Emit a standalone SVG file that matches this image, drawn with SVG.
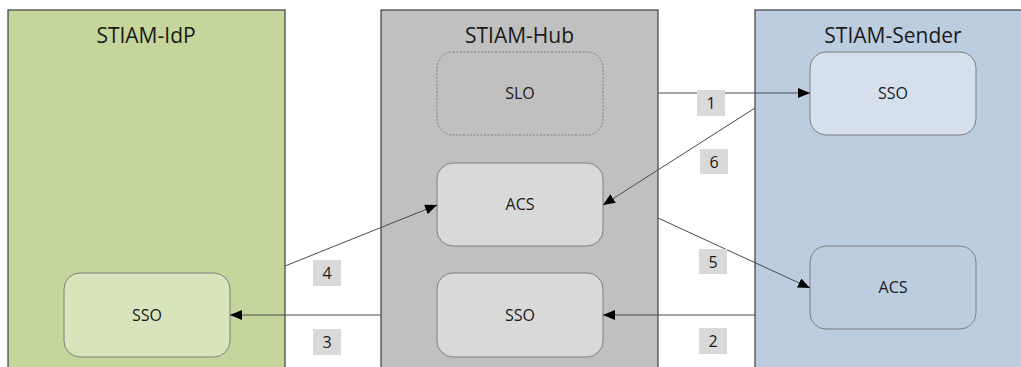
<svg xmlns="http://www.w3.org/2000/svg" width="1021" height="367" viewBox="0 0 1021 367">
<style>
.panel{stroke:#3f3f3f;stroke-width:1.2}
.title{font-family:"Open Sans","Liberation Sans",sans-serif;font-size:21px;fill:#1a1a1a;text-anchor:middle}
.node{stroke:#7f7f7f;stroke-width:1}
.lbl{font-family:"Open Sans","Liberation Sans",sans-serif;font-size:16px;fill:#1a1a1a;text-anchor:middle}
.conn{stroke:#4a4a4a;stroke-width:1;fill:none}
.tag{fill:#d9d9d9}
.num{font-family:"Open Sans","Liberation Sans",sans-serif;font-size:16px;fill:#1a1a1a;text-anchor:middle}
</style>
<defs>
<marker id="ah" viewBox="0 0 12 10" refX="12" refY="5" markerWidth="12" markerHeight="10" markerUnits="userSpaceOnUse" orient="auto">
<path d="M0,0 L12,5 L0,10 Z" fill="#000"/>
</marker>
</defs>
<rect width="1021" height="367" fill="#fff"/>
<g id="idp">
<rect class="panel" x="8" y="10" width="277" height="380" fill="#c4d69c"/>
<text class="title" x="146" y="43">STIAM-IdP</text>
</g>
<g id="hub">
<rect class="panel" x="381" y="10" width="277" height="380" fill="#c0c0c0"/>
<text class="title" x="519.5" y="43">STIAM-Hub</text>
</g>
<g id="sender">
<rect class="panel" x="755" y="10" width="290" height="380" fill="#bccde0"/>
<text class="title" x="893" y="43">STIAM-Sender</text>
</g>
<g id="idp-sso">
<rect class="node" x="64" y="273" width="166" height="84" rx="16" fill="#d8e4bc"/>
<text class="lbl" x="147" y="321">SSO</text>
</g>
<g id="hub-slo">
<rect class="node" x="437" y="52" width="166" height="83" rx="16" fill="none" stroke-dasharray="2,1.5"/>
<text class="lbl" x="520" y="99">SLO</text>
</g>
<g id="hub-acs">
<rect class="node" x="437" y="163" width="166" height="83" rx="16" fill="#d9d9d9"/>
<text class="lbl" x="520" y="210">ACS</text>
</g>
<g id="hub-sso">
<rect class="node" x="437" y="273" width="166" height="84" rx="16" fill="#d9d9d9"/>
<text class="lbl" x="520" y="321">SSO</text>
</g>
<g id="sender-sso">
<rect class="node" x="810" y="52" width="166" height="83" rx="16" fill="#d6e0ec"/>
<text class="lbl" x="893" y="99">SSO</text>
</g>
<g id="sender-acs">
<rect class="node" x="810" y="246" width="166" height="83" rx="16" fill="#bccde0"/>
<text class="lbl" x="893" y="293">ACS</text>
</g>
<g id="connectors">
<line class="conn" x1="658" y1="93" x2="810" y2="93" marker-end="url(#ah)"/>
<line class="conn" x1="755" y1="315" x2="603" y2="315" marker-end="url(#ah)"/>
<line class="conn" x1="381" y1="315" x2="230" y2="315" marker-end="url(#ah)"/>
<line class="conn" x1="285" y1="266" x2="437" y2="205" marker-end="url(#ah)"/>
<line class="conn" x1="658" y1="218" x2="810" y2="288" marker-end="url(#ah)"/>
<line class="conn" x1="755" y1="108" x2="603" y2="205" marker-end="url(#ah)"/>
<rect class="tag" x="697" y="90" width="28" height="26"/>
<text class="num" x="711" y="109">1</text>
<rect class="tag" x="699" y="328" width="28" height="26"/>
<text class="num" x="713" y="347">2</text>
<rect class="tag" x="313" y="329" width="28" height="26"/>
<text class="num" x="327" y="348">3</text>
<rect class="tag" x="313" y="260" width="28" height="26"/>
<text class="num" x="327" y="279">4</text>
<rect class="tag" x="699" y="249" width="28" height="25"/>
<text class="num" x="713" y="268">5</text>
<rect class="tag" x="700" y="149" width="28" height="25"/>
<text class="num" x="714" y="168">6</text>
</g>
</svg>
